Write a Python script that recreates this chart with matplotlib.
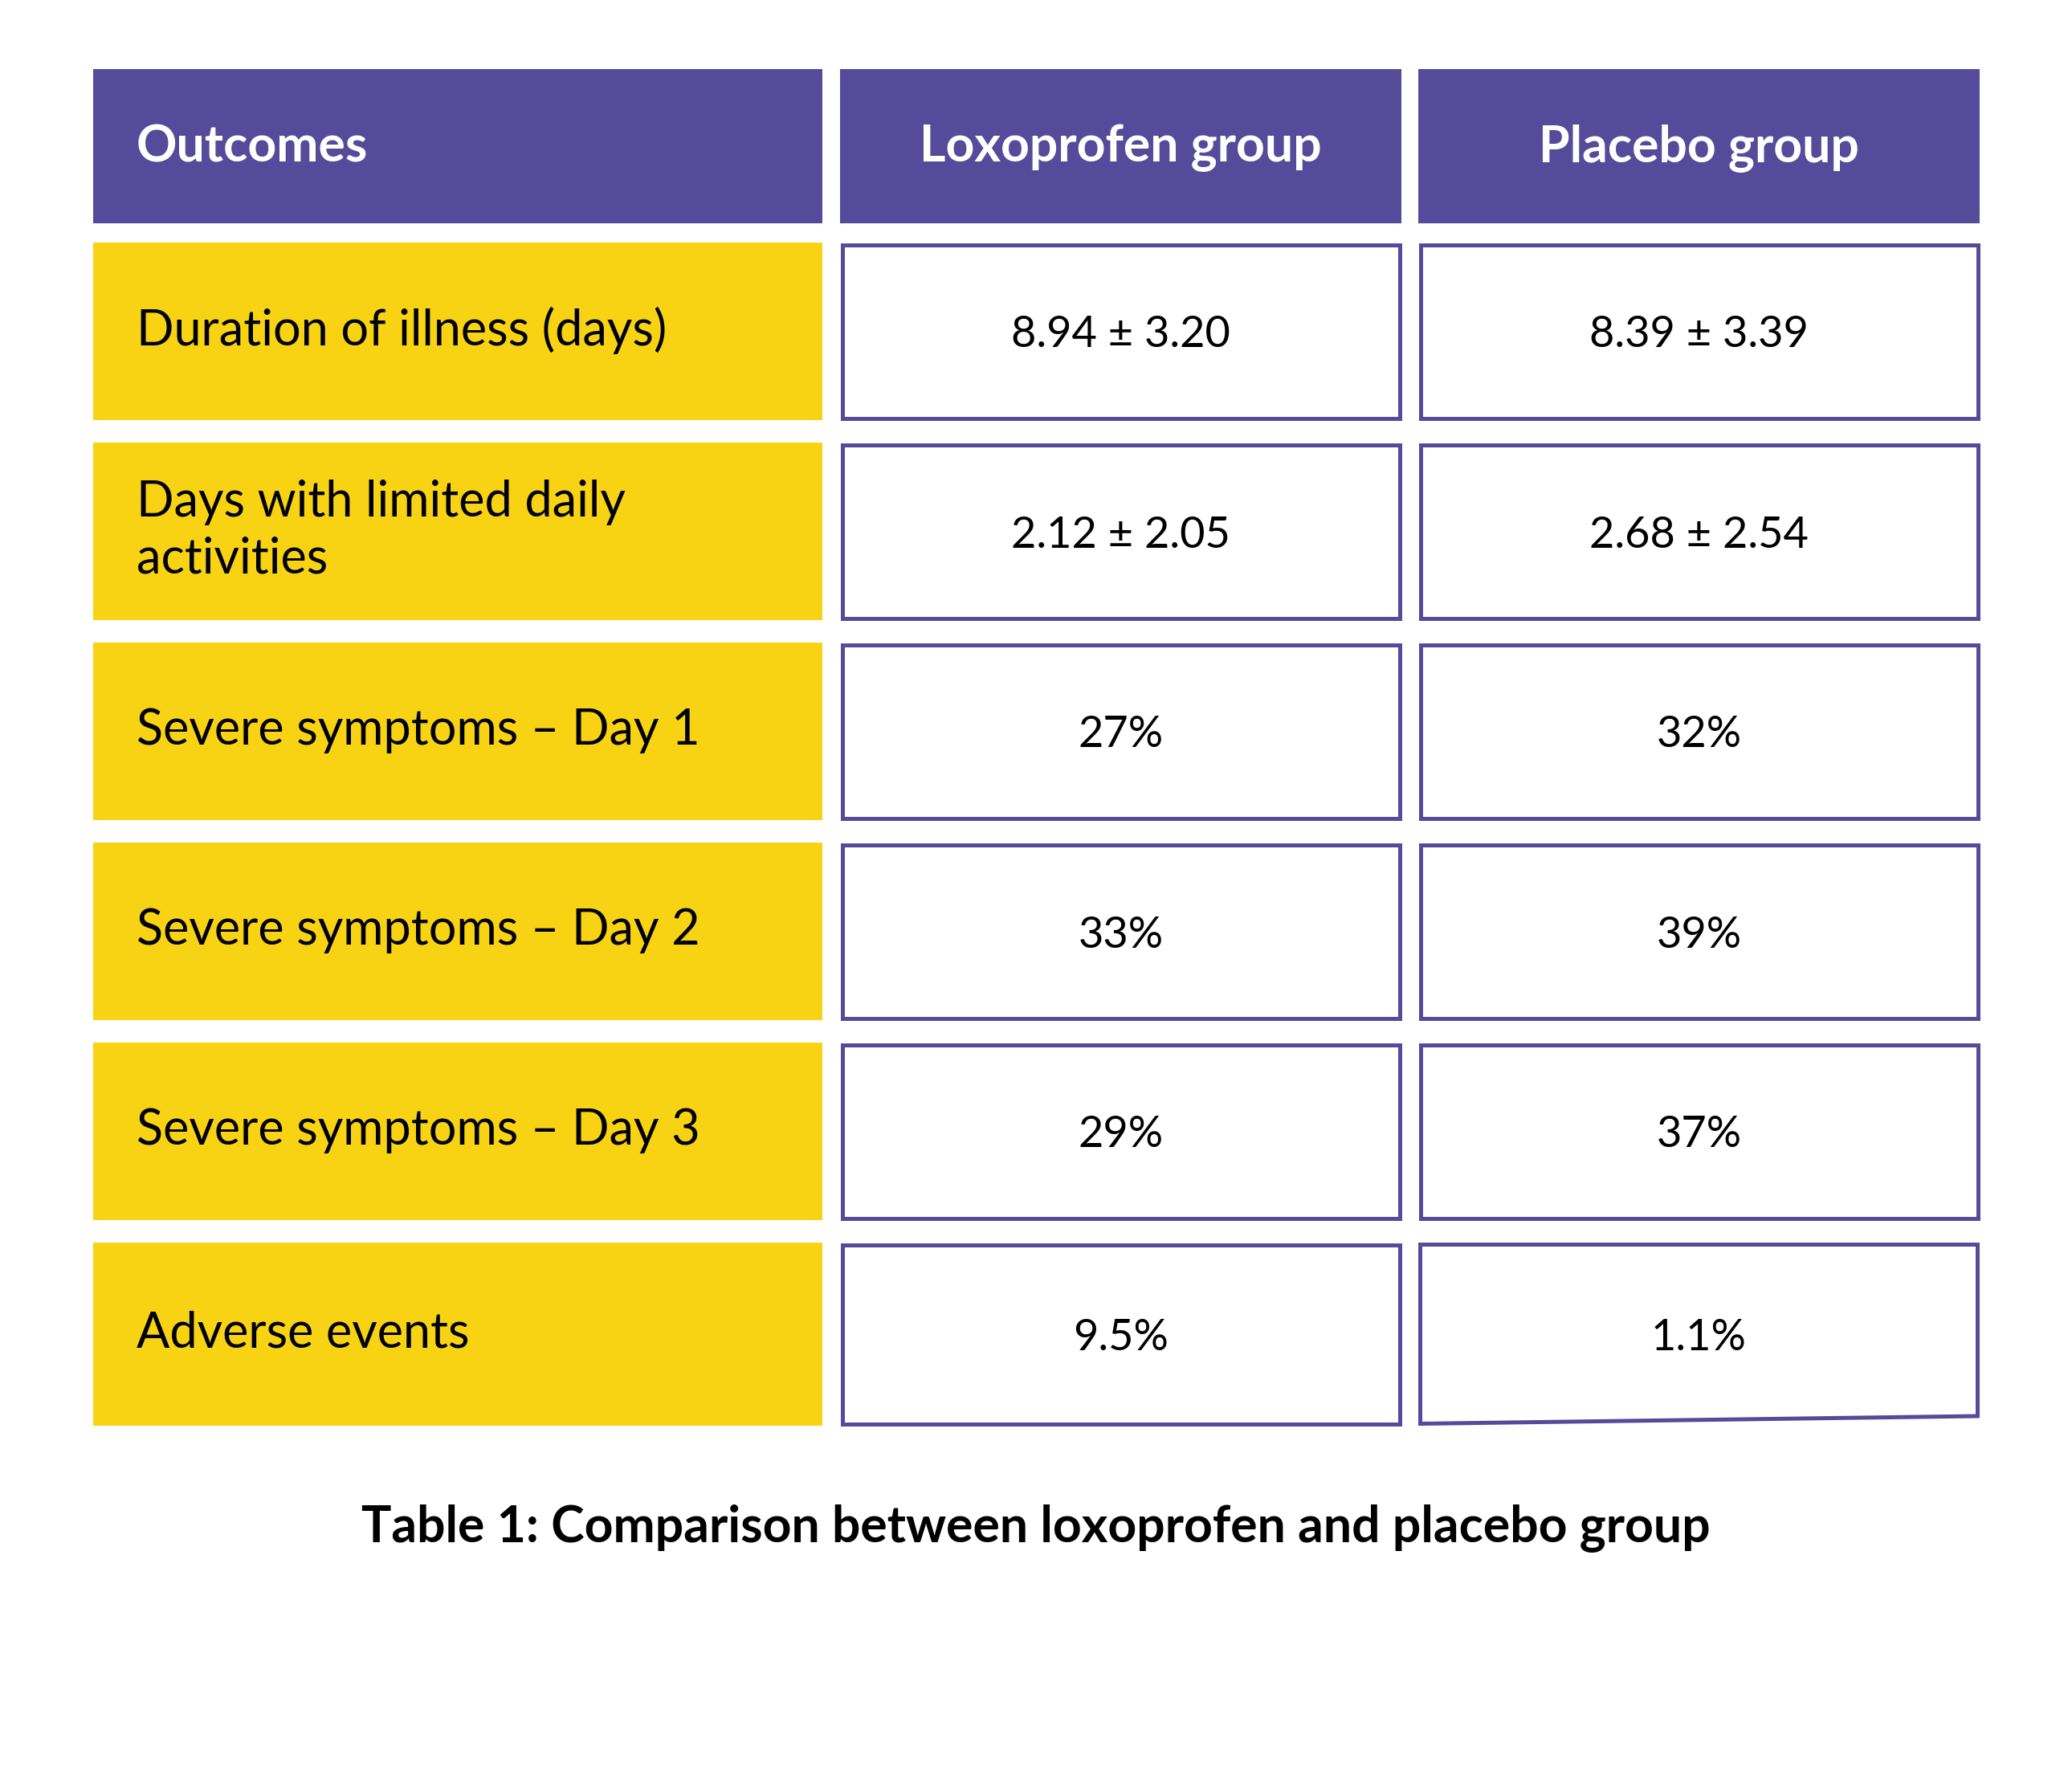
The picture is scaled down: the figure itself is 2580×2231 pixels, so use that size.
import matplotlib.pyplot as plt
from matplotlib.patches import Rectangle, Polygon

headers = ['Outcomes', 'Loxoprofen group', 'Placebo group']
outcomes = [
    'Duration of illness (days)',
    'Days with limited daily\nactivities',
    'Severe symptoms \u2013 Day 1',
    'Severe symptoms \u2013 Day 2',
    'Severe symptoms \u2013 Day 3',
    'Adverse events',
]
loxoprofen = ['8.94 \u00b1 3.20', '2.12 \u00b1 2.05', '27%', '33%', '29%', '9.5%']
placebo = ['8.39 \u00b1 3.39', '2.68 \u00b1 2.54', '32%', '39%', '37%', '1.1%']
caption = 'Table 1: Comparison between loxoprofen and placebo group'

PURPLE = '#564a9a'
YELLOW = '#f8d313'
W, H = 2580, 2231

# column edges in pixels
col_x = [(116, 1024), (1046, 1745), (1766, 2465)]
header_y = (86, 278)
row_top0 = 302
row_pitch = 249
row_h = 221
last_row_h = 228
lw_px = 5

fig = plt.figure(figsize=(W / 100, H / 100), dpi=100)
ax = fig.add_axes([0, 0, 1, 1])
ax.set_xlim(0, W)
ax.set_ylim(H, 0)
ax.axis('off')

FONT = ['Lato', 'DejaVu Sans']

# header
for i, (x0, x1) in enumerate(col_x):
    ax.add_patch(Rectangle((x0, header_y[0]), x1 - x0, header_y[1] - header_y[0],
                           facecolor=PURPLE, edgecolor='none'))
    yc = (header_y[0] + header_y[1]) / 2 - 4
    if i == 0:
        ax.text(x0 + 54, yc, headers[i], color='white', ha='left', va='center_baseline',
                family=FONT, fontweight='bold', fontsize=45)
    else:
        ax.text((x0 + x1) / 2, yc, headers[i], color='white', ha='center', va='center_baseline',
                family=FONT, fontweight='bold', fontsize=45)

# body rows
for r in range(len(outcomes)):
    top = row_top0 + r * row_pitch
    h = last_row_h if r == len(outcomes) - 1 else row_h
    yc = top + h / 2
    x0, x1 = col_x[0]
    ax.add_patch(Rectangle((x0, top), x1 - x0, h, facecolor=YELLOW, edgecolor='none'))
    ax.text(x0 + 54, yc - 1, outcomes[r], color='black', ha='left', va='center',
            linespacing=1.3, family=FONT, fontsize=44)
    for c, vals in zip([1, 2], [loxoprofen, placebo]):
        cx0, cx1 = col_x[c]
        half = lw_px / 2
        if r == len(outcomes) - 1 and c == 2:
            # the last placebo cell has a slightly slanted bottom edge
            pts = [(cx0 + half, top + half), (cx1 - half, top + half),
                   (cx1 - half, top + h - 12), (cx0 + half, top + h - half)]
            ax.add_patch(Polygon(pts, closed=True, facecolor='white', edgecolor=PURPLE,
                                 linewidth=lw_px * 0.72))
        else:
            ax.add_patch(Rectangle((cx0 + half, top + half), cx1 - cx0 - lw_px, h - lw_px,
                                   facecolor='white', edgecolor=PURPLE, linewidth=lw_px * 0.72))
        ax.text((cx0 + cx1) / 2, yc, vals[r], color='black', ha='center', va='center_baseline',
                family=FONT, fontsize=39)

ax.text(W / 2, 1896, caption, color='black', ha='center', va='center_baseline',
        family=FONT, fontweight='bold', fontsize=45)

fig.savefig('out.png', dpi=100)
